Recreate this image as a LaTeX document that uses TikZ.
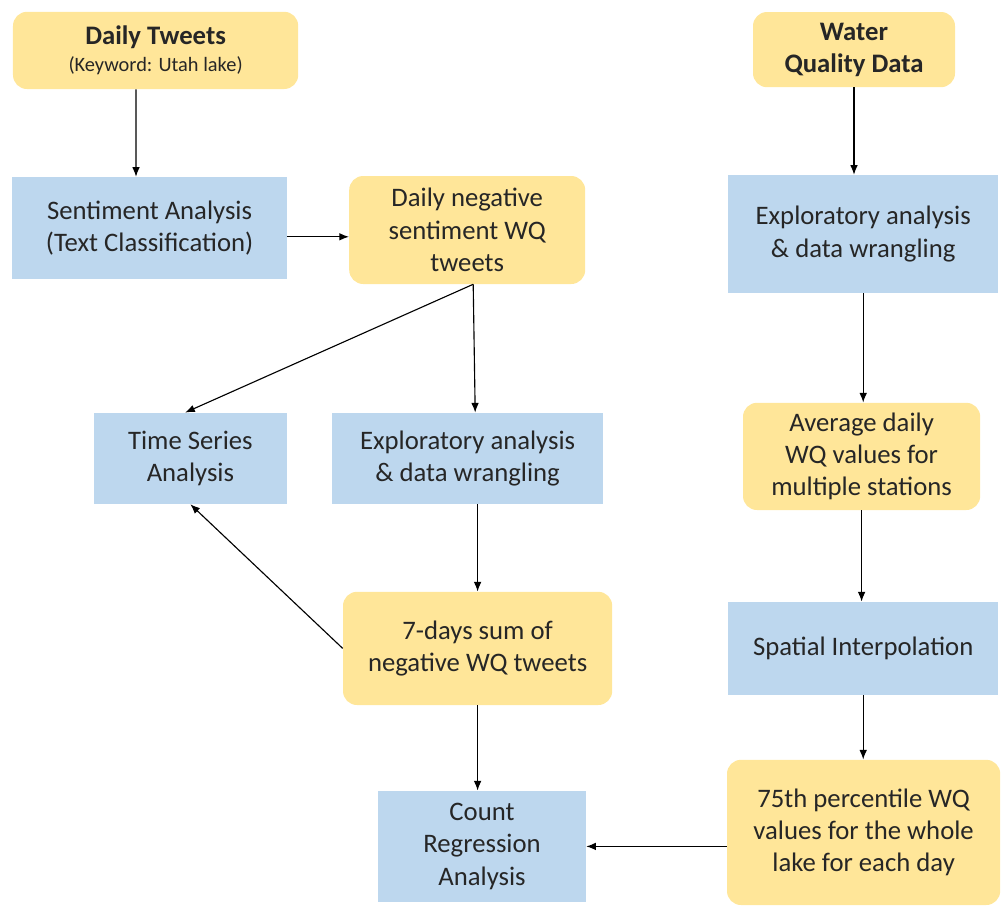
\documentclass[tikz,border=0pt]{standalone}
\usepackage{fontspec}
\setmainfont{Carlito}
\usetikzlibrary{positioning,shapes,arrows.meta}
\definecolor{wqyellow}{HTML}{FFE699}
\definecolor{wqblue}{HTML}{BDD7EE}
\definecolor{wqtext}{HTML}{262626}
\tikzset{
  data/.style={rectangle,rounded corners=3.5mm,fill=wqyellow,text=wqtext,align=center,font=\fontsize{19}{23}\selectfont},
  task/.style={rectangle,fill=wqblue,text=wqtext,align=center,font=\fontsize{19}{23}\selectfont},
  flow/.style={-{Latex[length=2.4mm,width=1.9mm]},line width=0.8pt}
}

\begin{document}
\begin{tikzpicture}
\useasboundingbox (0,0) rectangle (25.05,-22.675);
\node at (3.89,-1.26) [data,minimum width=7.13cm,minimum height=1.93cm] (tweets) {\textbf{Daily Tweets}\\[-1.4mm]{\fontsize{14.5}{17}\selectfont (Keyword: Utah lake)}};
\node at (3.74,-5.70) [task,minimum width=6.88cm,minimum height=2.55cm] (sent) {Sentiment Analysis\\(Text Classification)};
\node at (11.68,-5.75) [data,minimum width=5.9cm,minimum height=2.7cm] (neg) {Daily negative\\sentiment WQ\\tweets};
\node at (4.76,-11.46) [task,minimum width=4.83cm,minimum height=2.28cm] (ts) {Time Series\\Analysis};
\node at (11.69,-11.46) [task,minimum width=6.78cm,minimum height=2.28cm] (expl) {Exploratory analysis\\\& data wrangling};
\node at (11.94,-16.21) [data,minimum width=6.73cm,minimum height=2.83cm] (sum) {7-days sum of\\negative WQ tweets};
\node at (12.05,-21.16) [task,minimum width=5.2cm,minimum height=2.78cm] (count) {Count\\Regression\\Analysis};
\node at (21.35,-1.24) [data,minimum width=5.05cm,minimum height=1.88cm] (wq) {\textbf{Water}\\\textbf{Quality Data}};
\node at (21.58,-5.85) [task,minimum width=6.75cm,minimum height=2.95cm] (expr) {Exploratory analysis\\\& data wrangling};
\node at (21.54,-11.41) [data,minimum width=5.93cm,minimum height=2.68cm] (avg) {Average daily\\WQ values for\\multiple stations};
\node at (21.58,-16.21) [task,minimum width=6.75cm,minimum height=2.33cm] (spat) {Spatial Interpolation};
\node at (21.59,-20.81) [data,minimum width=6.83cm,minimum height=3.63cm] (pct) {75th percentile WQ\\values for the whole\\lake for each day};
\coordinate (negout) at ([xshift=1.5mm]neg.south);
\coordinate (sentout) at ([yshift=-2.2mm]sent.east);
\draw [flow] ([xshift=-4.9mm]tweets.south) -- ([xshift=-3.4mm]sent.north);
\draw [flow] (sentout) -- (sentout -| neg.west);
\draw [flow] (negout) -- ([xshift=-1.3mm]ts.north);
\draw [flow] (negout) -- ([xshift=1.9mm]expl.north);
\draw [flow] (sum.north |- expl.south) -- (sum.north);
\draw [flow] (sum.west) -- (ts.south);
\draw [flow] (sum.south) -- (sum.south |- count.north);
\draw [flow] (wq.south) -- (wq.south |- expr.north);
\draw [flow] (expr.south) -- (expr.south |- avg.north);
\draw [flow] (avg.south) -- (avg.south |- spat.north);
\draw [flow] (spat.south) -- (spat.south |- pct.north);
\draw [flow] (pct.west |- count.east) -- (count.east);
\end{tikzpicture}
\end{document}
